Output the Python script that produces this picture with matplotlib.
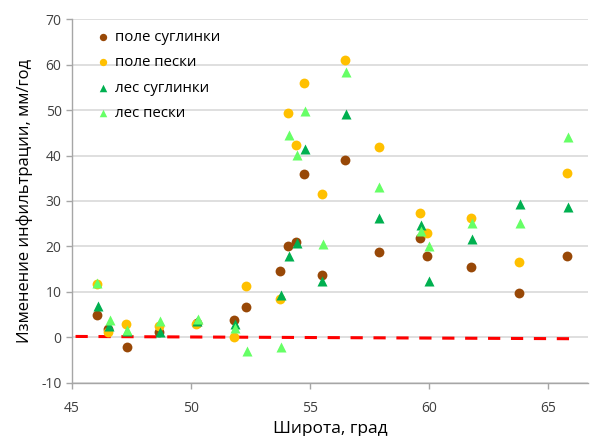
import matplotlib
matplotlib.use("Agg")
import matplotlib.pyplot as plt

plt.rcParams["font.family"] = ["Open Sans", "DejaVu Sans"]
plt.rcParams["axes.unicode_minus"] = False

# поле суглинки (brown circles)
lat_field_loam = [46.05, 46.5, 47.3, 48.65, 50.25, 51.8, 52.3, 53.73, 54.09, 54.42,
                  54.75, 55.5, 56.46, 57.89, 59.61, 59.94, 61.78, 63.8, 65.81]
val_field_loam = [4.9, 1.8, -2.2, 1.1, 3.2, 3.8, 6.6, 14.6, 20.2, 21.0,
                  35.9, 13.8, 39.0, 18.8, 21.8, 18.0, 15.4, 9.8, 18.0]

# поле пески (yellow circles)
lat_field_sand = [46.05, 46.5, 47.28, 48.65, 50.22, 51.8, 52.3, 53.73, 54.09, 54.42,
                  54.76, 55.5, 56.47, 57.89, 59.61, 59.94, 61.78, 63.8, 65.81]
val_field_sand = [11.8, 1.1, 3.0, 2.5, 3.0, 0.0, 11.2, 8.4, 49.4, 42.3,
                  55.9, 31.5, 61.0, 41.9, 27.3, 23.0, 26.2, 16.5, 36.2]

# лес суглинки (dark green triangles)
lat_forest_loam = [46.1, 46.55, 47.3, 48.7, 50.27, 51.84, 53.77, 54.13, 54.47,
                   54.8, 55.53, 56.51, 57.91, 59.65, 59.99, 61.82, 63.84, 65.85]
val_forest_loam = [7.0, 2.5, 1.3, 1.1, 3.7, 3.0, 9.3, 17.9, 20.7,
                   41.4, 12.4, 49.1, 26.3, 24.8, 12.4, 21.6, 29.3, 28.7]

# лес пески (light green triangles)
lat_forest_sand = [46.06, 46.58, 47.3, 48.7, 50.3, 51.84, 52.34, 53.77, 54.13, 54.47,
                   54.8, 55.55, 56.51, 57.91, 59.65, 59.99, 61.82, 63.84, 65.85]
val_forest_sand = [12.0, 3.8, 1.6, 3.7, 4.0, 2.0, -2.9, -2.2, 44.6, 40.1,
                   49.8, 20.5, 58.4, 33.1, 23.5, 20.0, 25.2, 25.2, 44.1]

# red dashed trend line
trend_x = [45.15, 66.0]
trend_y = [0.2, -0.3]

fig = plt.figure(figsize=(5.9, 4.36), dpi=100)
ax = fig.add_axes([0.122, 0.122, 0.875, 0.834])

ax.set_xlim(45, 66.7)
ax.set_ylim(-10, 70)
ax.set_xticks([45, 50, 55, 60, 65])
ax.set_yticks(range(-10, 71, 10))
ax.grid(True, axis="y", color="#d9d9d9", lw=1.2)
ax.set_axisbelow(True)
for side in ("top", "right"):
    ax.spines[side].set_visible(False)
for side in ("left", "bottom"):
    ax.spines[side].set_color("#a6a6a6")
    ax.spines[side].set_linewidth(1.0)
ax.tick_params(axis="both", colors="#a6a6a6", labelcolor="#404040",
               labelsize=10, length=4, width=1)
ax.tick_params(axis="x", pad=9)

ax.plot(trend_x, trend_y, color="#ff0000", lw=2.2, ls=(0, (4, 3.5)), zorder=2)

ax.scatter(lat_field_loam, val_field_loam, s=50, marker="o", color="#984807",
           label="поле суглинки", zorder=3, linewidths=0)
ax.scatter(lat_field_sand, val_field_sand, s=50, marker="o", color="#ffc000",
           label="поле пески", zorder=3, linewidths=0)
ax.scatter(lat_forest_loam, val_forest_loam, s=52, marker="^", color="#00b050",
           label="лес суглинки", zorder=3, linewidths=0)
ax.scatter(lat_forest_sand, val_forest_sand, s=52, marker="^", color="#66ff66",
           label="лес пески", zorder=3, linewidths=0)

ax.set_xlabel("Широта, град", fontsize=12.5, color="#000000", labelpad=4)
ax.set_ylabel("Изменение инфильтрации, мм/год", fontsize=12, color="#000000",
              labelpad=6)

ax.legend(loc="upper left", frameon=False, fontsize=10.8, markerscale=0.75,
          handlelength=1.0, handletextpad=0.3, labelspacing=0.7,
          borderaxespad=0.3, bbox_to_anchor=(0.025, 1.0))

fig.savefig("out.png")
